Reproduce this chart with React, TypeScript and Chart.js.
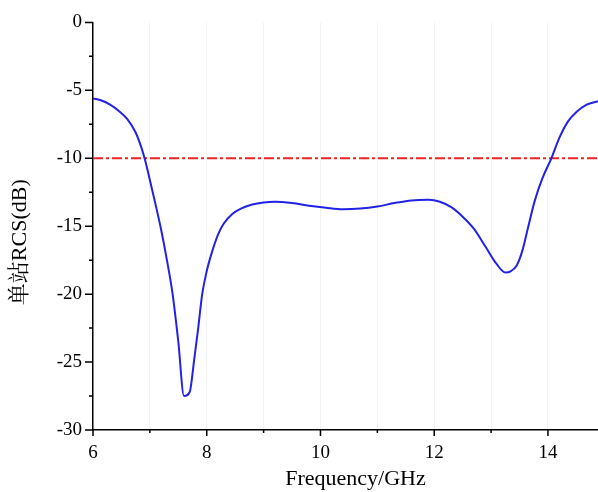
import { useEffect, useRef } from 'react';
import { Chart, registerables } from 'chart.js';

Chart.register(...registerables);

// ---- data ----
const freqGHz = [
  6.0, 6.15, 6.3, 6.45, 6.6, 6.75, 6.85, 6.92, 7.0, 7.1, 7.2, 7.3, 7.4, 7.5, 7.6, 7.7,
  7.78, 7.85, 7.92, 8.0, 8.1, 8.2, 8.3, 8.45, 8.6, 8.8, 9.0, 9.2, 9.5, 9.8, 10.1, 10.4,
  10.7, 11.0, 11.3, 11.6, 11.9, 12.1, 12.3, 12.5, 12.7, 12.9, 13.1, 13.25, 13.35, 13.45,
  13.55, 13.65, 13.77, 13.9, 14.06, 14.2, 14.35, 14.5, 14.68, 14.88,
];
const rcsDb = [
  -5.6, -5.75, -6.05, -6.5, -7.1, -8.1, -9.2, -10.2, -11.6, -13.4, -15.3, -17.5, -20.0, -23.5, -27.5, -27.2,
  -24.8, -22.5, -20.0, -18.3, -16.8, -15.6, -14.8, -14.1, -13.7, -13.4, -13.25, -13.2, -13.3, -13.5, -13.65, -13.75,
  -13.7, -13.55, -13.3, -13.1, -13.05, -13.2, -13.6, -14.3, -15.2, -16.5, -17.8, -18.4, -18.3, -17.9,
  -16.8, -15.1, -13.1, -11.5, -10.0, -8.5, -7.3, -6.6, -6.05, -5.8,
];
const thresholdDb = -10;
const xMin = 6;
const xMax = 14.88;
const yMin = -30;
const yMax = 0;
const xTitle = 'Frequency/GHz';
const yTitle = '单站RCS(dB)';

const SERIF = '"Liberation Serif", "Times New Roman", serif';
const TITLE_FONT = '"Liberation Serif", "Noto Serif CJK SC", "Noto Sans CJK SC", serif';

const decorPlugin = {
  id: 'decor',
  afterDraw(chart: any) {
    const { ctx, chartArea, scales } = chart;
    const { left, bottom } = chartArea;
    const x = scales.x;
    const y = scales.y;
    ctx.save();
    ctx.strokeStyle = '#000';
    ctx.lineWidth = 1.5;
    ctx.beginPath();
    for (let v = Math.ceil(xMin); v <= xMax + 1e-9; v += 1) {
      const px = x.getPixelForValue(v);
      const len = v % 2 === 0 ? 6 : 3;
      ctx.moveTo(px, bottom);
      ctx.lineTo(px, bottom + len);
    }
    for (let v = yMax; v >= yMin - 1e-9; v -= 2.5) {
      const py = y.getPixelForValue(v);
      const len = Math.abs(v % 5) < 1e-9 ? 8 : 4;
      ctx.moveTo(left - len, py);
      ctx.lineTo(left, py);
    }
    ctx.stroke();

    ctx.fillStyle = '#000';
    ctx.textAlign = 'center';
    ctx.textBaseline = 'middle';
    ctx.font = `22px ${TITLE_FONT}`;
    ctx.fillText(xTitle, (chartArea.left + chartArea.right) / 2 + 10, 479);
    ctx.translate(20, (chartArea.top + chartArea.bottom) / 2 + 16);
    ctx.rotate(-Math.PI / 2);
    ctx.fillText(yTitle, 0, 0);
    ctx.restore();
  },
};

export default function App() {
  const ref = useRef<HTMLCanvasElement | null>(null);

  useEffect(() => {
    if (!ref.current) return;
    const chart = new Chart(ref.current, {
      type: 'line',
      data: {
        datasets: [
          {
            data: freqGHz.map((f, i) => ({ x: f, y: rcsDb[i] })),
            borderColor: '#2222e6',
            borderWidth: 2,
            pointRadius: 0,
            cubicInterpolationMode: 'monotone',
            fill: false,
          },
          {
            data: [
              { x: xMin, y: thresholdDb },
              { x: xMax, y: thresholdDb },
            ],
            borderColor: '#ec2424',
            borderWidth: 1.8,
            borderDash: [10, 3, 3, 3],
            pointRadius: 0,
            fill: false,
          },
        ],
      },
      options: {
        responsive: false,
        animation: false,
        layout: { padding: { top: 19, right: 0, left: 0, bottom: 0 } },
        plugins: {
          legend: { display: false },
          tooltip: { enabled: false },
        },
        scales: {
          x: {
            type: 'linear',
            min: xMin,
            max: xMax,
            afterFit: (s: any) => {
              s.height = 62;
            },
            afterBuildTicks: (s: any) => {
              const t: any[] = [];
              for (let v = Math.ceil(xMin); v <= xMax + 1e-9; v += 1) t.push({ value: v });
              s.ticks = t;
            },
            ticks: {
              stepSize: 1,
              autoSkip: false,
              maxRotation: 0,
              padding: 12,
              color: '#000',
              font: { family: SERIF, size: 19 },
              callback: (v: any) => {
                const r = Math.round(Number(v));
                return r % 2 === 0 ? String(r) : '';
              },
            },
            grid: {
              drawTicks: false,
              color: (c: any) => (c.tick && c.tick.value > xMin + 0.01 ? 'rgba(0,0,0,0.05)' : 'rgba(0,0,0,0)'),
              lineWidth: 1,
            },
            border: { display: true, color: '#000', width: 1.5 },
          },
          y: {
            type: 'linear',
            min: yMin,
            max: yMax,
            afterFit: (s: any) => {
              s.width = 93;
            },
            ticks: {
              stepSize: 5,
              padding: 11,
              color: '#000',
              font: { family: SERIF, size: 19 },
              callback: (v: any) => String(v),
            },
            grid: { display: false, drawTicks: false },
            border: { display: true, color: '#000', width: 1.5 },
          },
        },
      },
      plugins: [decorPlugin],
    } as any);
    return () => chart.destroy();
  }, []);

  return (
    <div style={{ position: 'fixed', left: 0, top: 0, width: 598, height: 492, background: '#fff' }}>
      <canvas ref={ref} width={598} height={492} style={{ display: 'block' }} />
    </div>
  );
}
